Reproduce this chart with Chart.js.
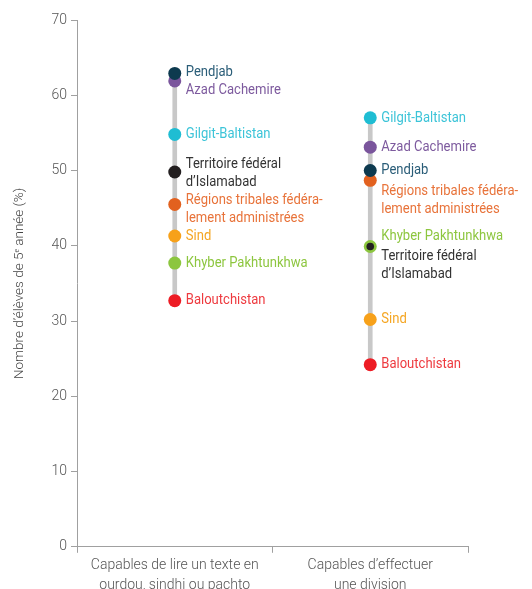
<!DOCTYPE html>
<html>
<head>
<meta charset="utf-8">
<script src="https://cdn.jsdelivr.net/npm/chart.js@4/dist/chart.umd.min.js"></script>
<style>
  html, body { margin: 0; padding: 0; background: #fff; overflow: hidden; }
  #wrap { position: relative; width: 532px; height: 602px; }
</style>
</head>
<body>
<div id="wrap"><canvas id="chart"></canvas></div>
<script>
const categories = [
  ["Capables de lire un texte en", "ourdou, sindhi ou pachto"],
  ["Capables d’effectuer", "une division"]
];
const regions = [
  ["Pendjab"],
  ["Azad Cachemire"],
  ["Gilgit-Baltistan"],
  ["Territoire fédéral", "d’Islamabad"],
  ["Régions tribales fédéra-", "lement administrées"],
  ["Sind"],
  ["Khyber Pakhtunkhwa"],
  ["Baloutchistan"]
];
const lecture = [62.9, 61.9, 54.8, 49.8, 45.5, 41.3, 37.7, 32.7];
const division = [50.0, 53.1, 57.0, 39.9, 48.7, 30.2, 39.9, 24.2];
const yTicks = [0, 10, 20, 30, 40, 50, 60, 70];

// styles
const dotColors = ["#0d3a4f", "#7a559c", "#1fbdd3", "#231f20", "#e2611f", "#f7a11a", "#8cc63f", "#ed1c24"];
const textColors = ["#2a5d78", "#7d5a9e", "#3cc4d8", "#333333", "#e8733a", "#f5a623", "#8dc63f", "#ee3a3f"];
// label shift in px from the dot, per region, per column
const labelShift = [
  [-1, 0], [9, 0], [0, 0], [-8, 10], [-4, 11], [0, 0], [0, -10], [0, 0]
];
const dotSize = [
  [6.5, 6.5], [6.5, 6.5], [6.5, 6.5], [6.5, 3.8], [6.5, 6.5], [6.5, 6.5], [6.5, 6.5], [6.5, 6.5]
];

const FONT = "Roboto";

const ranges = [lecture, division].map((col) => [Math.min(...col), Math.max(...col)]);

const labelPlugin = {
  id: "regionLabels",
  afterDatasetsDraw(chart) {
    const ctx = chart.ctx;
    ctx.save();
    ctx.font = "400 15px " + FONT;
    ctx.textBaseline = "middle";
    ctx.textAlign = "left";
    regions.forEach((lines, i) => {
      const meta = chart.getDatasetMeta(i);
      meta.data.forEach((pt, c) => {
        const y0 = pt.y + labelShift[i][c];
        ctx.fillStyle = textColors[i];
        lines.forEach((line, k) => {
          ctx.save();
          ctx.translate(pt.x + 11, y0 + k * 18);
          ctx.scale(0.87, 1);
          ctx.fillText(line, 0, 0);
          ctx.restore();
        });
      });
    });
    ctx.restore();
  }
};

const datasets = regions.map((name, i) => ({
  type: "line",
  label: name.join(" "),
  data: [lecture[i], division[i]],
  showLine: false,
  pointRadius: dotSize[i],
  pointHoverRadius: dotSize[i],
  pointBackgroundColor: dotColors[i],
  pointBorderWidth: 0,
  order: 0
}));

datasets.push({
  type: "bar",
  label: "range",
  data: ranges,
  backgroundColor: "#c8c8c8",
  barThickness: 4,
  order: 1
});

new Chart(document.getElementById("chart"), {
  data: { labels: categories, datasets },
  options: {
    responsive: true,
    maintainAspectRatio: false,
    animation: false,
    layout: { padding: { top: 20, right: 64, bottom: 4, left: 0 } },
    plugins: { legend: { display: false }, tooltip: { enabled: false } },
    scales: {
      x: {
        offset: true,
        grid: { offset: true, drawOnChartArea: false, color: "#a0a0a0", tickLength: 6 },
        border: { color: "#a0a0a0" },
        ticks: {
          color: "#555",
          font: { family: FONT, size: 14, weight: 300, lineHeight: 1.4 },
          padding: 3,
          maxRotation: 0
        }
      },
      y: {
        min: 0,
        max: 70,
        afterBuildTicks: (s) => { s.ticks = yTicks.map((v) => ({ value: v })); },
        grid: { drawOnChartArea: false, color: "#a0a0a0", tickLength: 6 },
        border: { color: "#a0a0a0" },
        ticks: {
          color: "#555",
          font: { family: FONT, size: 14, weight: 300 },
          padding: 4
        },
        title: {
          display: true,
          text: "Nombre d’élèves de 5ᵉ année (%)",
          color: "#444",
          font: { family: FONT, size: 13.5, weight: 300 },
          padding: { top: 12, bottom: 8 }
        },
        afterFit: (s) => { s.width = 77; }
      }
    }
  },
  plugins: [labelPlugin]
});
</script>
</body>
</html>
